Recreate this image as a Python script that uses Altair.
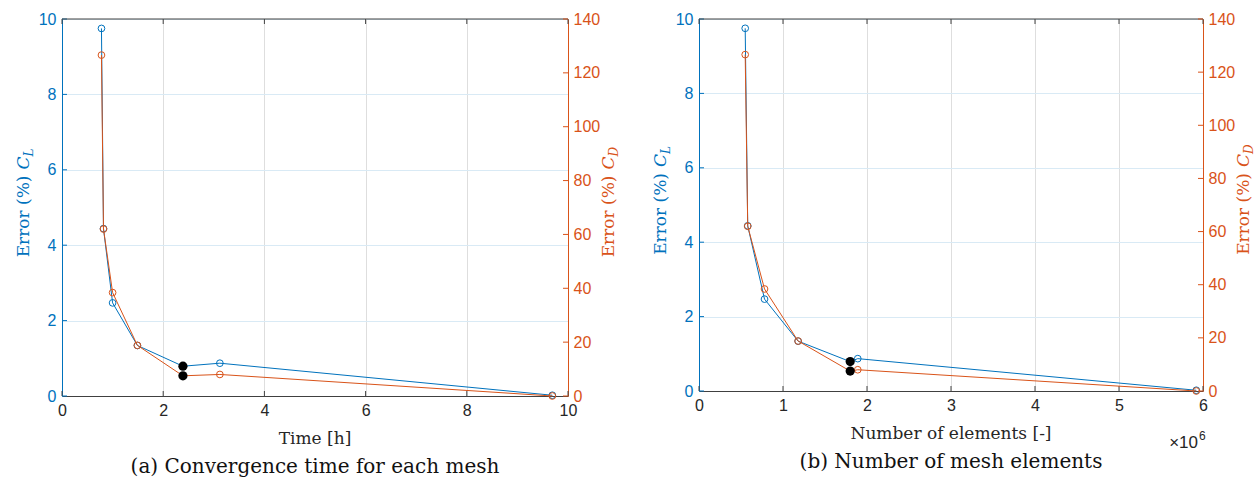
import altair as alt
import pandas as pd

# ---- data ----
time_h = [0.78, 0.82, 1.00, 1.49, 2.39, 3.12, 9.69]
n_elements = [550000, 580000, 780000, 1180000, 1800000, 1890000, 5920000]
err_cl = [9.75, 4.44, 2.47, 1.34, 0.79, 0.87, 0.02]
err_cd = [126.6, 62.0, 38.4, 18.8, 7.5, 8.0, 0.0]
selected = [False, False, False, False, True, False, False]

cl_ticks = [0, 2, 4, 6, 8, 10]
cd_ticks = [0, 20, 40, 60, 80, 100, 120, 140]
time_ticks = [0, 2, 4, 6, 8, 10]
elem_ticks = [0, 1000000, 2000000, 3000000, 4000000, 5000000, 6000000]

caption_a = "(a) Convergence time for each mesh"
caption_b = "(b) Number of mesh elements"
xtitle_a = "Time [h]"
xtitle_b = "Number of elements [-]"

BLUE = "#0072BD"
ORANGE = "#D95319"
DARK = "#404040"
SANS = "Liberation Sans"
SERIF = "DejaVu Serif"


def panel(xvals, xdomain, xticks, W, H, xtitle, caption, label_expr=None, exponent=False):
    df = pd.DataFrame({"x": xvals, "cl": err_cl, "cd": err_cd, "sel": selected})
    base = alt.Chart(df)
    one = alt.Chart(pd.DataFrame({"k": [0]}))
    xscale = alt.Scale(domain=xdomain, nice=False, zero=False)
    axis_kw = dict(values=xticks, grid=True, gridColor="#dedede", gridWidth=1,
                   domainColor=DARK, domainWidth=1, ticks=False, title=None,
                   labelFont=SANS, labelFontSize=16, labelColor="#262626",
                   labelPadding=6, labelFlush=False)
    if label_expr:
        axis_kw["labelExpr"] = label_expr
    xaxis = alt.Axis(**axis_kw)

    yl_scale = alt.Scale(domain=[0, 10], nice=False, zero=False)
    yr_scale = alt.Scale(domain=[0, 140], nice=False, zero=False)
    yl_axis = alt.Axis(values=cl_ticks, grid=True, gridColor="#d9eaf5", gridWidth=1,
                       domainColor=BLUE, domainWidth=1, ticks=False, title=None,
                       labelFont=SANS, labelFontSize=16, labelColor=BLUE,
                       labelPadding=6, orient="left")
    yr_axis = alt.Axis(values=cd_ticks, grid=False,
                       domainColor=ORANGE, domainWidth=1, ticks=False, title=None,
                       labelFont=SANS, labelFontSize=16, labelColor=ORANGE,
                       labelPadding=5, orient="right")
    xenc = alt.X("x:Q", scale=xscale, axis=xaxis)
    yl = alt.Y("cl:Q", scale=yl_scale, axis=yl_axis)
    yr = alt.Y("cd:Q", scale=yr_scale, axis=yr_axis)

    # inward ticks
    xt = alt.Chart(pd.DataFrame({"x": xticks}))
    xtick_b = xt.mark_rule(color=DARK, strokeWidth=1).encode(
        x=xenc, y=alt.value(H), y2=alt.value(H - 5))
    xtick_t = xt.mark_rule(color=DARK, strokeWidth=1).encode(
        x=xenc, y=alt.value(0), y2=alt.value(5))
    yltick = alt.Chart(pd.DataFrame({"cl": cl_ticks})).mark_rule(color=BLUE, strokeWidth=1).encode(
        y=yl, x=alt.value(0), x2=alt.value(5))
    yrtick = alt.Chart(pd.DataFrame({"cd": cd_ticks})).mark_rule(color=ORANGE, strokeWidth=1).encode(
        y=yr, x=alt.value(W - 5), x2=alt.value(W))
    top_border = one.mark_rule(color=DARK, strokeWidth=1).encode(
        x=alt.value(0), x2=alt.value(W), y=alt.value(0))

    blue_line = base.mark_line(color=BLUE, strokeWidth=1).encode(x=xenc, y=yl)
    blue_pts = base.mark_point(shape="circle", filled=False, color=BLUE, size=45,
                               strokeWidth=1, opacity=1).encode(x=xenc, y=yl)
    blue_sel = base.transform_filter("datum.sel").mark_circle(
        color="black", size=85, opacity=1).encode(x=xenc, y=yl)

    orange_line = base.mark_line(color=ORANGE, strokeWidth=1).encode(x=xenc, y=yr)
    orange_pts = base.mark_point(shape="circle", filled=False, color=ORANGE, size=45,
                                 strokeWidth=1, opacity=1).encode(x=xenc, y=yr)
    orange_sel = base.transform_filter("datum.sel").mark_circle(
        color="black", size=85, opacity=1).encode(x=xenc, y=yr)

    # y titles (rotated) with italic C and subscript
    y0 = H / 2 - 38
    def ytitle(xpos, color, sub):
        t1 = one.mark_text(text="Error (%)", angle=270, align="right", baseline="middle",
                           font=SERIF, fontSize=17, color=color).encode(
            x=alt.value(xpos), y=alt.value(y0 + 6))
        t2 = one.mark_text(text="C", angle=270, align="left", baseline="middle",
                           font=SERIF, fontSize=17, fontStyle="italic", color=color).encode(
            x=alt.value(xpos), y=alt.value(y0))
        t3 = one.mark_text(text=sub, angle=270, align="left", baseline="middle",
                           font=SERIF, fontSize=12, fontStyle="italic", color=color).encode(
            x=alt.value(xpos + 5), y=alt.value(y0 - 13))
        return [t1, t2, t3]

    xt_text = one.mark_text(text=xtitle, align="center", baseline="alphabetic",
                            font=SERIF, fontSize=17, color="#262626").encode(
        x=alt.value(W / 2), y=alt.value(H + 48))
    cap = one.mark_text(text=caption, align="center", baseline="alphabetic",
                        font=SERIF, fontSize=20, color="#111111").encode(
        x=alt.value(W / 2), y=alt.value(H + 77))
    extra = []
    if exponent:
        extra.append(one.mark_text(text="×10", align="right", baseline="alphabetic",
                                   font=SANS, fontSize=17, color="#262626").encode(
            x=alt.value(W - 5), y=alt.value(H + 57)))
        extra.append(one.mark_text(text="6", align="left", baseline="alphabetic",
                                   font=SANS, fontSize=12, color="#262626").encode(
            x=alt.value(W - 4), y=alt.value(H + 49)))

    left_layer = alt.layer(blue_line, blue_pts, yltick, xtick_b, xtick_t, top_border,
                           *ytitle(-38, BLUE, "L"), xt_text, cap, *extra, blue_sel)
    right_layer = alt.layer(orange_line, orange_pts, yrtick, *ytitle(W + 41, ORANGE, "D"),
                            orange_sel)
    return alt.layer(left_layer, right_layer).resolve_scale(y="independent").properties(
        width=W, height=H)


pa = panel(time_h, [0, 10], time_ticks, 506, 377, xtitle_a, caption_a)
pb = panel(n_elements, [0, 6000000], elem_ticks, 504, 372, xtitle_b, caption_b,
           label_expr="format(datum.value / 1000000, 'd')", exponent=True)

chart = alt.hconcat(pa, pb, spacing=30).properties(
    padding={"left": 14, "top": 10, "right": 0, "bottom": 0}
).configure_view(stroke=None).configure(background="white")

chart.save("out.html", embed_options={"renderer": "svg", "actions": False})
